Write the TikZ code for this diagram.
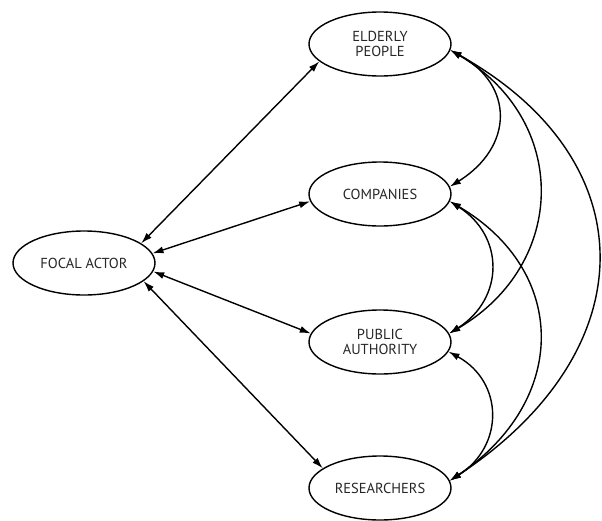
\documentclass[tikz,border=0pt]{standalone}
\usepackage{fontspec}
\setmainfont{PT Sans}
\usetikzlibrary{arrows.meta,shapes.geometric}
\begin{document}
\begin{tikzpicture}[x=1pt,y=-1pt,
  actor/.style={ellipse,draw,line width=1.4pt,minimum width=142pt,minimum height=64pt,
    inner sep=0pt,align=center,font=\fontsize{14.5}{15.5}\selectfont,text=black!85},
  link/.style={line width=1.4pt,{Latex[length=11pt,width=7pt]}-{Latex[length=11pt,width=7pt]}}]
\useasboundingbox (0,0) rectangle (602,520);
\node[actor] (F) at (84,263) {FOCAL ACTOR};
\node[actor] (E) at (380,44) {ELDERLY\\PEOPLE};
\node[actor] (C) at (380,194) {COMPANIES};
\node[actor] (P) at (380,342) {PUBLIC\\AUTHORITY};
\node[actor] (R) at (380,488) {RESEARCHERS};
% links from the focal actor
\draw[link] (F.19) -- (E.196);
\draw[link] (F.8) -- (C.186);
\draw[link] (F.-7) -- (P.173);
\draw[link] (F.-17) -- (R.161);
% links among the other actors
\draw[link] (E.-5) .. controls +(64,35) and +(64,-40) .. (C.6);
\draw[link] (E.-5) .. controls +(119,70) and +(119,-70) .. (P.7);
\draw[link] (E.-5) .. controls +(197,110) and +(197,-130) .. (R.6);
\draw[link] (C.-6) .. controls +(55,35) and +(55,-35) .. (P.7);
\draw[link] (C.-6) .. controls +(119,70) and +(119,-80) .. (R.6);
\draw[link] (P.-8) .. controls +(55,30) and +(55,-35) .. (R.6);
\end{tikzpicture}
\end{document}
